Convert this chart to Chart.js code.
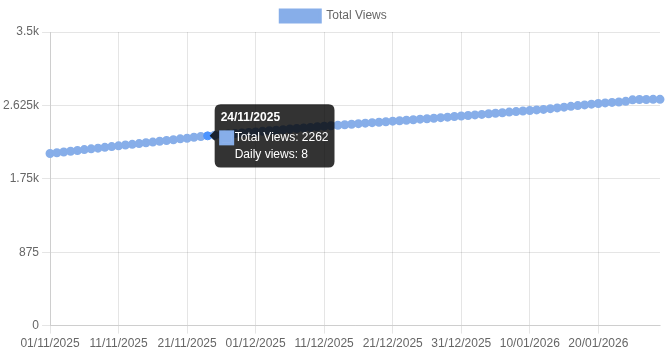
<!DOCTYPE html>
<html>
<head>
<meta charset="utf-8">
<script src="https://cdn.jsdelivr.net/npm/chart.js@4.4.0/dist/chart.umd.min.js"></script>
<style>
  html, body { margin: 0; padding: 0; background: #fff; }
  #wrap { width: 667px; height: 354px; }
</style>
</head>
<body>
<div id="wrap"><canvas id="viewsChart"></canvas></div>
<script>
// days shown on the x axis
var dayLabels = [
    '01/11/2025', '02/11/2025', '03/11/2025', '04/11/2025', '05/11/2025', '06/11/2025', '07/11/2025', '08/11/2025', '09/11/2025', '10/11/2025',
    '11/11/2025', '12/11/2025', '13/11/2025', '14/11/2025', '15/11/2025', '16/11/2025', '17/11/2025', '18/11/2025', '19/11/2025', '20/11/2025',
    '21/11/2025', '22/11/2025', '23/11/2025', '24/11/2025', '25/11/2025', '26/11/2025', '27/11/2025', '28/11/2025', '29/11/2025', '30/11/2025',
    '01/12/2025', '02/12/2025', '03/12/2025', '04/12/2025', '05/12/2025', '06/12/2025', '07/12/2025', '08/12/2025', '09/12/2025', '10/12/2025',
    '11/12/2025', '12/12/2025', '13/12/2025', '14/12/2025', '15/12/2025', '16/12/2025', '17/12/2025', '18/12/2025', '19/12/2025', '20/12/2025',
    '21/12/2025', '22/12/2025', '23/12/2025', '24/12/2025', '25/12/2025', '26/12/2025', '27/12/2025', '28/12/2025', '29/12/2025', '30/12/2025',
    '31/12/2025', '01/01/2026', '02/01/2026', '03/01/2026', '04/01/2026', '05/01/2026', '06/01/2026', '07/01/2026', '08/01/2026', '09/01/2026',
    '10/01/2026', '11/01/2026', '12/01/2026', '13/01/2026', '14/01/2026', '15/01/2026', '16/01/2026', '17/01/2026', '18/01/2026', '19/01/2026',
    '20/01/2026', '21/01/2026', '22/01/2026', '23/01/2026', '24/01/2026', '25/01/2026', '26/01/2026', '27/01/2026', '28/01/2026', '29/01/2026'
];

// cumulative views per day
var totalViews = [
    2051, 2060, 2070, 2078, 2087, 2098, 2107, 2115, 2125, 2134,
    2143, 2153, 2161, 2170, 2180, 2188, 2198, 2207, 2216, 2226,
    2234, 2245, 2254, 2262, 2269, 2275, 2283, 2290, 2296, 2303,
    2308, 2316, 2323, 2329, 2336, 2343, 2349, 2357, 2363, 2370,
    2377, 2383, 2389, 2395, 2400, 2407, 2413, 2419, 2424, 2430,
    2437, 2442, 2448, 2454, 2461, 2466, 2472, 2479, 2485, 2492,
    2498, 2505, 2512, 2518, 2525, 2531, 2538, 2545, 2551, 2558,
    2564, 2571, 2577, 2586, 2595, 2604, 2614, 2623, 2631, 2640,
    2648, 2655, 2661, 2666, 2673, 2691, 2695, 2696, 2697, 2697
];

// y axis: 0 .. 3.5k in steps of 875
var yMax = 3500;
var yStep = 875;
var hoverIndex = 23;   // 24/11/2025, tooltip open in the picture

var ctx = document.getElementById('viewsChart').getContext('2d');

var viewsChart = new Chart(ctx, {
    type: 'line',
    data: {
        labels: dayLabels,
        datasets: [
            {
                label: 'Total Views',
                data: totalViews,
                borderColor: '#87aee9',
                backgroundColor: '#87aee9',
                borderWidth: 3,
                fill: false
            }
        ]
    },
    options: {
        responsive: true,
        maintainAspectRatio: false,
        animation: false,
        plugins: {
            legend: { display: true },
            tooltip: {
                callbacks: {
                    title: function (items) { return items[0].label; },
                    label: function (item) { return 'Total Views: ' + item.parsed.y; },
                    afterLabel: function (item) {
                        var i = item.dataIndex;
                        var daily = i > 0 ? totalViews[i] - totalViews[i - 1] : 0;
                        return 'Daily views: ' + daily;
                    }
                }
            }
        },
        scales: {
            x: {
                // one label every 10 days
                ticks: { maxRotation: 0, autoSkip: true, maxTicksLimit: 9 }
            },
            y: {
                min: 0,
                max: yMax,
                ticks: {
                    stepSize: yStep,
                    callback: function (v) { return v >= 1000 ? (v / 1000) + 'k' : v; }
                }
            }
        }
    }
});

// open the tooltip on 24/11 like in the screenshot
var pt = viewsChart.getDatasetMeta(0).data[hoverIndex];
viewsChart.setActiveElements([{ datasetIndex: 0, index: hoverIndex }]);
viewsChart.tooltip.setActiveElements([{ datasetIndex: 0, index: hoverIndex }], { x: pt.x, y: pt.y });
viewsChart.update();
</script>
</body>
</html>
